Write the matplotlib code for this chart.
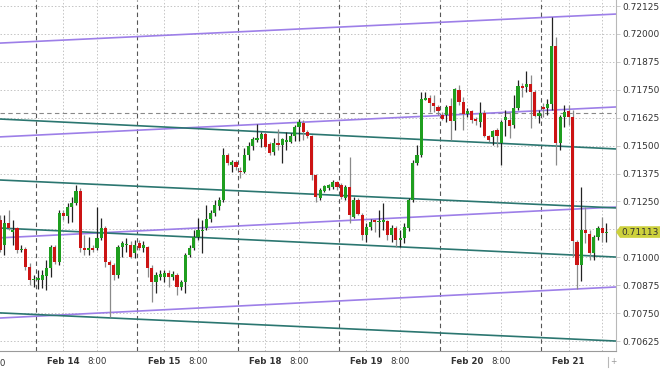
import numpy as np
import matplotlib
matplotlib.use("Agg")
import matplotlib.pyplot as plt
import matplotlib.transforms as mtransforms
from matplotlib.patches import Polygon

# hourly candles, x = hours since Feb 14 00:00 (weekend removed), prices in points (x1e5)
hours = list(range(-15, 130))

opens = [71167, 71056, 71154, 71113, 71131, 71033, 71037, 70957, 70898, 70898,
         70898, 70916, 70952, 71047, 70979, 71199, 71185, 71226, 71244, 71297,
         71042, 71033, 71042, 71042, 71086, 71131, 70979, 70966, 70921, 71047,
         71056, 71056, 71020, 71065, 71042, 71047, 70952, 70889, 70912, 70912,
         70930, 70912, 70921, 70867, 70889, 71011, 71042, 71091, 71118, 71131,
         71172, 71199, 71230, 71257, 71458, 71413, 71427, 71387, 71382, 71458,
         71498, 71525, 71529, 71552, 71507, 71471, 71511, 71502, 71516, 71516,
         71543, 71583, 71601, 71561, 71543, 71368, 71266, 71297, 71310, 71315,
         71337, 71324, 71266, 71315, 71181, 71257, 71190, 71100, 71136, 71167,
         71158, 71158, 71163, 71100, 71131, 71078, 71086, 71131, 71257, 71423,
         71458, 71704, 71713, 71691, 71673, 71637, 71637, 71678, 71610, 71749,
         71695, 71642, 71655, 71619, 71606, 71646, 71543, 71538, 71570, 71511,
         71615, 71615, 71592, 71669, 71767, 71762, 71776, 71740, 71633, 71673,
         71669, 71686, 71946, 71511, 71628, 71655, 71628, 71069, 70966, 71122,
         71104, 71020, 71091, 71131, 71109]

highs = [71190, 71190, 71212, 71167, 71136, 71056, 71047, 70975, 70921, 70943,
         70943, 70988, 71056, 71056, 71212, 71212, 71244, 71270, 71324, 71310,
         71100, 71091, 71056, 71226, 71176, 71140, 70988, 70975, 71056, 71074,
         71086, 71074, 71078, 71078, 71074, 71051, 70966, 70934, 70943, 70943,
         70943, 70939, 70930, 70898, 71020, 71056, 71122, 71176, 71167, 71235,
         71212, 71257, 71270, 71489, 71467, 71436, 71436, 71405, 71489, 71516,
         71538, 71597, 71561, 71561, 71516, 71534, 71574, 71534, 71561, 71556,
         71592, 71619, 71615, 71570, 71547, 71373, 71310, 71324, 71328, 71346,
         71342, 71333, 71324, 71449, 71270, 71266, 71199, 71154, 71172, 71172,
         71212, 71244, 71167, 71145, 71140, 71122, 71154, 71266, 71436, 71502,
         71740, 71740, 71727, 71727, 71682, 71651, 71682, 71713, 71758, 71771,
         71718, 71669, 71660, 71628, 71695, 71660, 71547, 71570, 71579, 71615,
         71660, 71651, 71727, 71794, 71780, 71834, 71816, 71749, 71660, 71691,
         71709, 72076, 71986, 71637, 71682, 71682, 71660, 71078, 71315, 71226,
         71122, 71100, 71140, 71181, 71154]

lows = [71024, 71011, 71122, 71056, 71020, 71024, 70943, 70876, 70867, 70858,
        70862, 70854, 70912, 70970, 70966, 71167, 71154, 71158, 71235, 71024,
        71011, 71011, 71024, 71033, 71078, 70957, 70733, 70898, 70907, 71002,
        71024, 70997, 70997, 71033, 71024, 70912, 70800, 70841, 70898, 70889,
        70867, 70898, 70831, 70854, 70841, 71002, 71033, 71078, 71020, 71122,
        71158, 71185, 71212, 71248, 71413, 71382, 71391, 71355, 71378, 71436,
        71480, 71516, 71494, 71489, 71458, 71458, 71480, 71423, 71480, 71511,
        71520, 71520, 71525, 71534, 71346, 71248, 71257, 71292, 71301, 71306,
        71301, 71261, 71257, 71154, 71176, 71190, 71078, 71069, 71122, 71113,
        71091, 71122, 71078, 71069, 71047, 71047, 71065, 71118, 71248, 71413,
        71449, 71704, 71651, 71651, 71637, 71615, 71606, 71525, 71570, 71682,
        71570, 71628, 71601, 71592, 71583, 71538, 71516, 71502, 71494, 71413,
        71543, 71534, 71579, 71660, 71718, 71740, 71579, 71628, 71601, 71628,
        71637, 71660, 71413, 71480, 71583, 71592, 71002, 70858, 70894, 71065,
        70988, 70988, 71078, 71069, 71069]

closes = [71033, 71154, 71131, 71122, 71033, 71037, 70957, 70898, 70902, 70907,
          70921, 70952, 71047, 70979, 71199, 71185, 71226, 71244, 71297, 71042,
          71033, 71042, 71033, 71086, 71131, 70979, 70966, 70921, 71047, 71065,
          71060, 71002, 71056, 71042, 71056, 70952, 70889, 70921, 70925, 70930,
          70912, 70925, 70867, 70889, 71011, 71042, 71091, 71122, 71122, 71172,
          71199, 71235, 71257, 71458, 71423, 71427, 71405, 71382, 71458, 71498,
          71529, 71534, 71552, 71494, 71467, 71511, 71502, 71529, 71525, 71543,
          71583, 71606, 71561, 71543, 71368, 71270, 71301, 71319, 71324, 71337,
          71315, 71270, 71315, 71190, 71257, 71194, 71100, 71136, 71158, 71158,
          71163, 71167, 71100, 71131, 71078, 71086, 71136, 71257, 71423, 71458,
          71709, 71713, 71691, 71678, 71655, 71619, 71673, 71610, 71753, 71695,
          71642, 71655, 71615, 71610, 71646, 71543, 71525, 71565, 71543, 71606,
          71628, 71588, 71669, 71767, 71758, 71776, 71740, 71633, 71646, 71664,
          71686, 71946, 71511, 71628, 71651, 71628, 71074, 70966, 71122, 71109,
          71020, 71091, 71131, 71109, 71113]

# trend lines: price at left edge, price at right edge
purple_lines = [(0.71959, 0.72089), (0.71539, 0.71673), (0.71087, 0.71225), (0.70728, 0.70867)]
teal_lines = [(0.71619, 0.71485), (0.71346, 0.71221), (0.71131, 0.71001), (0.70751, 0.70625)]

day_starts = [0, 24, 48, 72, 96, 120]
day_labels = ["Feb 14", "Feb 15", "Feb 18", "Feb 19", "Feb 20", "Feb 21"]
session_breaks = [-6.5, 17.5, 41.5, 65.5, 89.5, 113.5]
last_price = 0.71113
ref_level = 0.71646
yticks = [0.70625, 0.70750, 0.70875, 0.71000, 0.71125, 0.71250, 0.71375,
          0.71500, 0.71625, 0.71750, 0.71875, 0.72000, 0.72125]

x = np.array(hours, dtype=float)
o = np.array(opens) / 1e5
h = np.array(highs) / 1e5
l = np.array(lows) / 1e5
c = np.array(closes) / 1e5
h = np.maximum(h, np.maximum(o, c))
l = np.minimum(l, np.minimum(o, c))

fig = plt.figure(figsize=(6.6, 3.69), dpi=100)
ax = fig.add_axes([0, 1 - 351 / 369, 616 / 660, 351 / 369])
x0, x1 = -15.04, 131.28
ax.set_xlim(x0, x1)
ax.set_ylim(0.705804, 0.721519)

# grid
for yv in yticks:
    ax.axhline(yv, color="#c4c4c4", lw=0.7, ls=(0, (1.5, 2)), zorder=0)
for d in day_starts:
    for xv in (d, d + 8):
        ax.axvline(xv, color="#c4c4c4", lw=0.7, ls=(0, (1.5, 2)), zorder=0)
for xv in session_breaks:
    ax.axvline(xv, color="#555555", lw=0.8, ls=(0, (4, 3)), zorder=1)
ax.axhline(ref_level, color="#888888", lw=0.8, ls=(0, (4, 3)), zorder=1)

# trend lines
for a, b in purple_lines:
    ax.plot([x0, x1], [a, b], color="#9d7fe8", lw=1.2, zorder=2)
for a, b in teal_lines:
    ax.plot([x0, x1], [a, b], color="#2b7670", lw=1.2, zorder=2)

# candles
up = c >= o
green = "#1f9e1f"
red = "#cc1414"
wick_col = np.where(up, "#222222", "#8a8a8a")
ax.vlines(x, l, h, colors=wick_col, lw=0.9, zorder=3)
body_bottom = np.minimum(o, c)
body_h = np.maximum(np.abs(c - o), 0.000025)
ax.bar(x, body_h, bottom=body_bottom, width=0.75,
       color=np.where(up, green, red), edgecolor="none", zorder=4)

# axes styling
for s in ("left", "top"):
    ax.spines[s].set_visible(False)
ax.spines["right"].set_color("#b8b8b8")
ax.spines["bottom"].set_color("#9a9a9a")
ax.spines["right"].set_linewidth(0.8)
ax.spines["bottom"].set_linewidth(0.8)

ax.yaxis.tick_right()
ax.set_yticks(yticks)
# the price tag covers the 0.71125 label
ax.set_yticklabels(["" if abs(v - 0.71125) < 1e-7 else "%.5f" % v for v in yticks])
ax.tick_params(axis="y", length=3, width=0.6, color="#c4c4c4", pad=1.5,
               labelsize=6.5, labelcolor="#333333")

xt, xl = [], []
for d, lab in zip(day_starts, day_labels):
    xt.append(d); xl.append(lab)
    if d + 8 < 126:
        xt.append(d + 8); xl.append("8:00")
ax.set_xticks(xt)
ax.set_xticklabels(xl)
ax.tick_params(axis="x", length=0, pad=4, labelsize=6.2, labelcolor="#333333")
for t in ax.get_xticklabels():
    if t.get_text().startswith("Feb"):
        t.set_fontweight("bold")

# cut-off label at left edge
trans_x = mtransforms.blended_transform_factory(ax.transData, ax.transAxes)
ax.text(-16, -0.037, "8:00", transform=trans_x, ha="center", va="center",
        fontsize=6.2, color="#333333", clip_on=False)

# last price tag
trans_tag = mtransforms.blended_transform_factory(fig.transFigure, ax.transData)
hh = 0.00026
tag = Polygon([(616 / 660, last_price), (620 / 660, last_price + hh),
               (660 / 660, last_price + hh), (660 / 660, last_price - hh),
               (620 / 660, last_price - hh)], closed=True,
              transform=trans_tag, facecolor="#cdd13c", edgecolor="none",
              clip_on=False, zorder=5)
fig.patches.append(tag)
fig.text(621 / 660, last_price, "%.5f" % last_price, transform=trans_tag,
         ha="left", va="center", fontsize=6.5, color="#333333", zorder=6)

# small widget bits under the price axis
fig.lines.append(plt.Line2D([608 / 660, 608 / 660], [1 - 357 / 369, 1 - 367 / 369],
                            transform=fig.transFigure, color="#b8b8b8", lw=0.8))
fig.text(613 / 660, 1 - 361 / 369, "+", ha="center", va="center",
         fontsize=5.5, color="#999999")

fig.savefig("out.png", dpi=100)
